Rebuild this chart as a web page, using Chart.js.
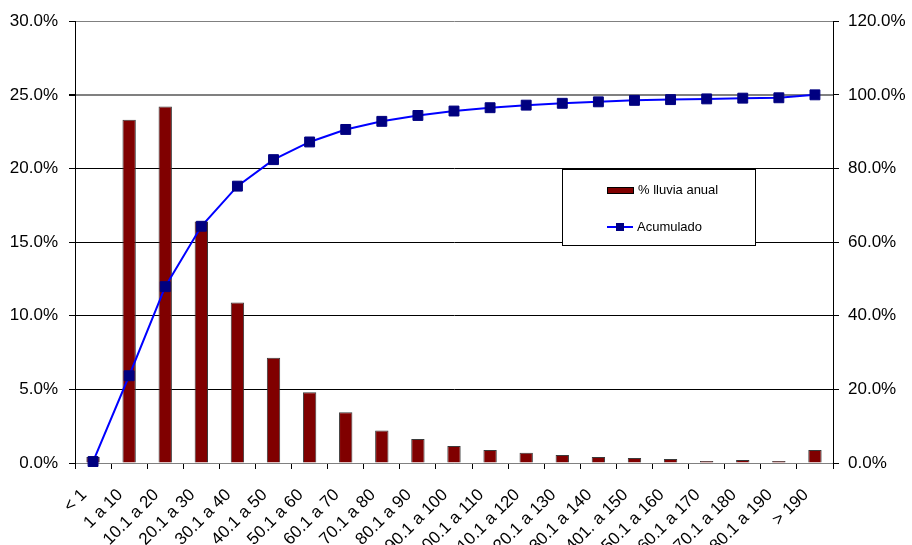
<!DOCTYPE html>
<html>
<head>
<meta charset="utf-8">
<script src="https://cdn.jsdelivr.net/npm/chart.js@4/dist/chart.umd.min.js"></script>
<style>
  html, body { margin: 0; padding: 0; background: #ffffff; }
  #wrap { width: 912px; height: 545px; position: relative; }
</style>
</head>
<body>
<div id="wrap"><canvas id="c" width="912" height="545"></canvas></div>
<script>
// Rainfall classes (mm) and their share of the annual rainfall
const categories = [
  "< 1", "1 a 10", "10.1 a 20", "20.1 a 30", "30.1 a 40", "40.1 a 50",
  "50.1 a 60", "60.1 a 70", "70.1 a 80", "80.1 a 90", "90.1 a 100",
  "100.1 a 110", "110.1 a 120", "120.1 a 130", "130.1 a 140", "1401. a 150",
  "150.1 a 160", "160.1 a 170", "170.1 a 180", "180.1 a 190", "> 190"
];
const lluviaAnual = [
  0.4, 23.3, 24.2, 16.4, 10.9, 7.15,
  4.8, 3.45, 2.2, 1.63, 1.15,
  0.88, 0.70, 0.54, 0.41, 0.34,
  0.27, 0.14, 0.20, 0.14, 0.88
];
const acumulado = [
  0.4, 23.7, 47.9, 64.3, 75.2, 82.4,
  87.2, 90.6, 92.8, 94.4, 95.6,
  96.5, 97.2, 97.7, 98.1, 98.5,
  98.7, 98.9, 99.1, 99.2, 100.0
];
const seriesNames = ["% lluvia anual", "Acumulado"];
// axis ranges: [min, max, step]
const leftAxis = [0, 30, 5];
const rightAxis = [0, 120, 20];

const FONT = "'Liberation Sans', Arial, Helvetica, sans-serif";
Chart.defaults.font.family = FONT;
Chart.defaults.color = '#000000';

const pct = v => Number(v).toFixed(1) + '%';

// Boxed legend drawn inside the plot area
const boxLegend = {
  id: 'boxLegend',
  afterDatasetsDraw(chart, args, opts) {
    const { ctx, chartArea } = chart;
    const x = Math.round(chartArea.left + opts.x);
    const y = Math.round(chartArea.top + opts.y);
    const bars = chart.data.datasets[0];
    const line = chart.data.datasets[1];
    ctx.save();
    ctx.fillStyle = '#ffffff';
    ctx.fillRect(x, y, opts.w, opts.h);
    ctx.strokeStyle = '#000000';
    ctx.lineWidth = 1;
    ctx.strokeRect(x + 0.5, y + 0.5, opts.w, opts.h);

    ctx.font = opts.fontSize + 'px ' + FONT;
    ctx.textBaseline = 'middle';
    ctx.textAlign = 'left';
    ctx.fillStyle = '#000000';

    // bar swatch
    const sx = x + 45, r1 = y + 21, r2 = y + 58;
    ctx.fillStyle = bars.backgroundColor;
    ctx.fillRect(sx, r1 - 3, 26, 6);
    ctx.strokeStyle = '#000000';
    ctx.strokeRect(sx + 0.5, r1 - 3 + 0.5, 26, 6);
    ctx.fillStyle = '#000000';
    ctx.fillText(bars.label, sx + 31, r1);

    // line swatch
    ctx.strokeStyle = line.borderColor;
    ctx.lineWidth = 2;
    ctx.beginPath();
    ctx.moveTo(sx, r2);
    ctx.lineTo(sx + 26, r2);
    ctx.stroke();
    ctx.fillStyle = line.pointBackgroundColor;
    ctx.fillRect(sx + 13 - 4, r2 - 4, 8, 8);
    ctx.fillStyle = '#000000';
    ctx.fillText(line.label, sx + 30, r2);
    ctx.restore();
  }
};

new Chart(document.getElementById('c'), {
  data: {
    labels: categories,
    datasets: [
      {
        type: 'bar',
        label: seriesNames[0],
        data: lluviaAnual,
        yAxisID: 'y',
        backgroundColor: '#800000',
        borderColor: '#3a3a3a',
        borderWidth: 1,
        categoryPercentage: 1.0,
        barPercentage: 0.37,
        order: 1
      },
      {
        type: 'line',
        label: seriesNames[1],
        data: acumulado,
        yAxisID: 'y1',
        borderColor: '#0000ff',
        borderWidth: 2,
        tension: 0,
        pointStyle: 'rect',
        pointRadius: 7,
        pointBackgroundColor: '#000080',
        pointBorderColor: '#000080',
        pointBorderWidth: 1,
        clip: false,
        order: 0
      }
    ]
  },
  options: {
    responsive: false,
    animation: false,
    layout: { padding: { top: 20, bottom: 0, left: 0, right: 0 } },
    plugins: {
      legend: { display: false },
      tooltip: { enabled: false },
      boxLegend: { x: 487, y: 148, w: 193, h: 76, fontSize: 13 }
    },
    scales: {
      x: {
        type: 'category',
        offset: true,
        grid: {
          offset: true,
          drawOnChartArea: false,
          drawTicks: true,
          tickLength: 6,
          color: '#000000'
        },
        border: { color: '#808080', width: 1 },
        ticks: {
          autoSkip: false,
          minRotation: 45,
          maxRotation: 45,
          padding: 16,
          labelOffset: -9,
          font: { size: 17 },
          color: '#000000'
        },
        afterFit(scale) { scale.height = 82; }
      },
      y: {
        position: 'left',
        min: leftAxis[0],
        max: leftAxis[1],
        grid: {
          color: ctx => (ctx.tick && (ctx.tick.value === 0 || ctx.tick.value === 25 || ctx.tick.value === 30)) ? '#808080' : '#000000',
          lineWidth: ctx => (ctx.tick && ctx.tick.value === 25) ? 2 : 1,
          tickColor: '#000000',
          tickLength: 6
        },
        border: { color: '#000000', width: 1 },
        ticks: {
          stepSize: leftAxis[2],
          padding: 11,
          font: { size: 17 },
          callback: pct
        },
        afterFit(scale) { scale.width = 75; }
      },
      y1: {
        position: 'right',
        min: rightAxis[0],
        max: rightAxis[1],
        grid: {
          drawOnChartArea: false,
          color: '#000000',
          tickLength: 6
        },
        border: { color: '#000000', width: 1 },
        ticks: {
          stepSize: rightAxis[2],
          padding: 9,
          font: { size: 17 },
          callback: pct
        },
        afterFit(scale) { scale.width = 79; }
      }
    }
  },
  plugins: [boxLegend]
});
</script>
</body>
</html>
